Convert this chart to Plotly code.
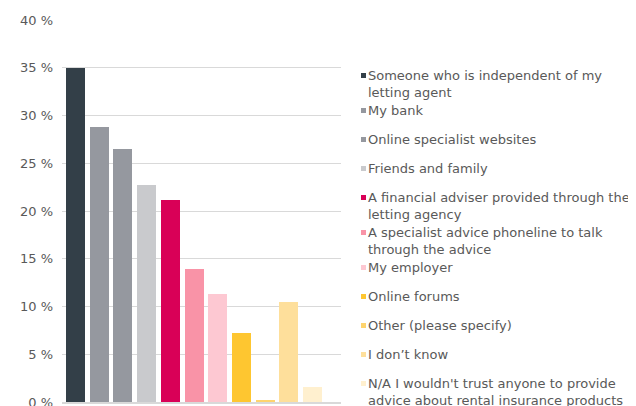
import plotly.graph_objects as go

# survey answers, in chart order
answers = [
    "Someone who is independent of my<br>letting agent",
    "My bank",
    "Online specialist websites",
    "Friends and family",
    "A financial adviser provided through the<br>letting agency",
    "A specialist advice phoneline to talk<br>through the advice",
    "My employer",
    "Online forums",
    "Other (please specify)",
    "I don’t know",
    "N/A I wouldn't trust anyone to provide<br>advice about rental insurance products",
]
shares = [35.0, 28.8, 26.5, 22.7, 21.1, 13.9, 11.3, 7.2, 0.2, 10.5, 1.6]
colors = [
    "#333f48", "#95989f", "#95989f", "#c9cacd", "#d90057", "#f993a7",
    "#fdc8d2", "#fec630", "#fed46e", "#fedf9b", "#fff0cf",
]
y_ticks = [0, 5, 10, 15, 20, 25, 30, 35, 40]

# the page body adds an 8px margin, so the figure is sized to what is visible
PAGE_OFF = 8
W, H = 636 - PAGE_OFF, 406 - PAGE_OFF
L, T = 62 - PAGE_OFF, 20 - PAGE_OFF
R, B = 636 - 341, 4
plot_w = W - L - R
plot_h = H - T - B
FONT = "DejaVu Sans, Verdana, sans-serif"
TEXT = "#595959"

fig = go.Figure(
    go.Bar(
        x=list(range(len(shares))),
        y=shares,
        width=0.8,
        marker=dict(color=colors, line=dict(width=0)),
        showlegend=False,
        hoverinfo="y",
    )
)


# page pixel -> paper fraction
def px_x(px):
    return (px - PAGE_OFF - L) / plot_w


def px_y(py):
    return (H - B - (py - PAGE_OFF)) / plot_h


# hand-made legend: small square + left-aligned text, Excel style
shapes = []
annotations = []
line_y = 75
for label, color in zip(answers, colors):
    n_lines = label.count("<br>") + 1
    shapes.append(dict(
        type="rect", xref="paper", yref="paper",
        x0=px_x(361), x1=px_x(366),
        y0=px_y(line_y + 3), y1=px_y(line_y - 2),
        fillcolor=color, line=dict(width=0), layer="above",
    ))
    annotations.append(dict(
        text=label, xref="paper", yref="paper",
        x=px_x(366), y=px_y(line_y - 9.5),
        xanchor="left", yanchor="top", align="left",
        showarrow=False,
        font=dict(family=FONT, size=13, color=TEXT),
    ))
    line_y += 29 + 6 * (n_lines - 1)

fig.update_layout(
    width=W,
    height=H,
    margin=dict(l=L, r=R, t=T, b=B),
    paper_bgcolor="white",
    plot_bgcolor="white",
    font=dict(family=FONT, size=13, color=TEXT),
    shapes=shapes,
    annotations=annotations,
    bargap=0,
)

fig.update_xaxes(
    range=[-0.57, 11.2],
    showticklabels=False,
    showgrid=False,
    zeroline=False,
    showline=True,
    linecolor="#d9d9d9",
    linewidth=1.5,
    ticks="",
    automargin=False,
)
fig.update_yaxes(
    range=[0, 40],
    tickvals=y_ticks,
    ticktext=[f"{v} %" for v in y_ticks],
    showgrid=True,
    gridcolor="#d9d9d9",
    gridwidth=1,
    zeroline=False,
    showline=False,
    ticks="",
    ticklabelstandoff=8,
    ticklabeloverflow="allow",
    tickfont=dict(family=FONT, size=13, color=TEXT),
    automargin=False,
)

fig.write_html("out.html")
